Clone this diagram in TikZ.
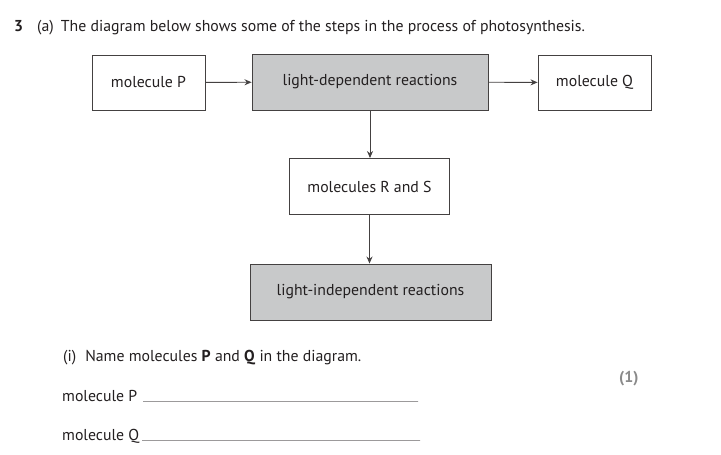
\documentclass[tikz,border=0pt]{standalone}
\usepackage{fontspec}
\setmainfont{PT Sans}
\usetikzlibrary{arrows.meta}
\definecolor{ink}{HTML}{231F20}
\definecolor{boxgray}{HTML}{C8C9CA}
\definecolor{markgray}{HTML}{8A8A8A}
\begin{document}
\begin{tikzpicture}[x=1pt,y=-1pt,
  every node/.style={font=\fontsize{15.8}{18}\selectfont, text=ink},
  box/.style={draw=ink!85, line width=0.9pt, inner sep=0pt, minimum height=55pt},
  graybox/.style={box, fill=boxgray},
  arr/.style={draw=ink!85, line width=0.9pt, -{Stealth[length=7pt,width=6pt]}},
  txt/.style={anchor=base west, inner sep=0pt},
  dotline/.style={draw=ink!45, line width=0.5pt, dash pattern=on 0.3pt off 0.7pt}]
\useasboundingbox (0,0) rectangle (721,455);
\node[txt, font=\fontsize{15.8}{18}\selectfont\bfseries] (num) at (14,31) {3};
\node[txt] (qa) at (37,31) {(a)\hspace{7pt}The diagram below shows some of the steps in the process of photosynthesis.};
\node[box, minimum width=113pt] (P) at (148.5,82.5) {molecule P};
\node[graybox, minimum width=236pt, minimum height=56pt] (LD) at (370,82) {light-dependent reactions};
\node[box, minimum width=113pt] (Q) at (594.5,82.5) {molecule Q};
\node[box, minimum width=160pt, minimum height=56pt] (RS) at (369.5,186.5) {molecules R and S};
\node[graybox, minimum width=241pt, minimum height=56pt] (LI) at (370.5,292) {light-independent reactions};
\draw[arr] (P) -- (LD);
\draw[arr] (LD) -- (Q);
\draw[arr] (LD.south) -- (LD.south |- RS.north);
\draw[arr] (RS.south) -- (RS.south |- LI.north);
\node[txt] (qi) at (63,361) {(i)\hspace{9pt}Name molecules \textbf{P} and \textbf{Q} in the diagram.};
\node[txt, text=markgray, font=\fontsize{15.8}{18}\selectfont\bfseries] (mark) at (619,382) {(1)};
\node[txt] (mp) at (62,401) {molecule P};
\node[txt] (mq) at (62,440) {molecule Q};
\coordinate (p1) at (143,401);
\coordinate (p2) at (418,401);
\coordinate (q1) at (142,440);
\coordinate (q2) at (420,440);
\draw[dotline] (p1) -- (p2);
\draw[dotline] (q1) -- (q2);
\end{tikzpicture}
\end{document}
